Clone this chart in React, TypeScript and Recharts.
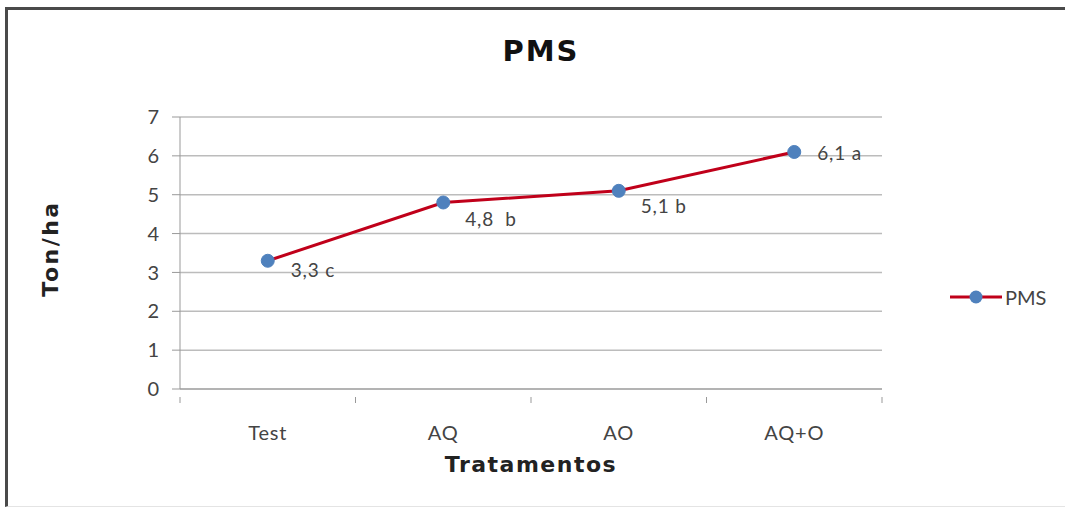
import React from 'react';
import { LineChart, Line, XAxis, YAxis, CartesianGrid, LabelList } from 'recharts';

const categories = ['Test', 'AQ', 'AO', 'AQ+O'];
const pmsValues = [3.3, 4.8, 5.1, 6.1];
const pointLabels = ['3,3 c', '4,8  b', '5,1 b', '6,1 a'];
const yTicks = [0, 1, 2, 3, 4, 5, 6, 7];

const data = categories.map((name, i) => ({ name, pms: pmsValues[i], label: pointLabels[i] }));

// label offsets relative to each marker (dx, dy)
const labelOffsets = [
  [23, 11],
  [22, 19],
  [22, 17],
  [23, 3],
];

const HALF_BAND = 87.75;
const FONT = 'Lato, "Open Sans", sans-serif';
const BOLD_FONT = '"DejaVu Sans", Verdana, sans-serif';

const CategoryTick = (props: any) => {
  const { x, y, payload, index } = props;
  return (
    <g>
      <line x1={x - HALF_BAND} x2={x - HALF_BAND} y1={y} y2={y + 6} stroke="#999" />
      {index === categories.length - 1 && (
        <line x1={x + HALF_BAND} x2={x + HALF_BAND} y1={y} y2={y + 6} stroke="#999" />
      )}
      <text x={x} y={y + 38} textAnchor="middle" dominantBaseline="middle" fontSize={20} fill="#444" fontFamily={FONT} letterSpacing={0.8}>
        {payload.value}
      </text>
    </g>
  );
};

const PointLabel = (props: any) => {
  const { x, y, index, value } = props;
  const [dx, dy] = labelOffsets[index] || [20, 0];
  return (
    <text x={x + dx} y={y + dy} dominantBaseline="middle" fontSize={19} fill="#444" fontFamily={FONT} letterSpacing={0.8} style={{ whiteSpace: 'pre' }}>
      {value}
    </text>
  );
};

export default function App() {
  return (
    <div style={{ position: 'absolute', left: 0, top: 0, width: 1065, height: 513, background: '#fff', overflow: 'hidden' }}>
      <div
        style={{
          position: 'absolute', left: 5, top: 7, width: 1060, height: 500,
          borderLeft: '3px solid #4a4a4a', borderTop: '3px solid #4a4a4a', borderBottom: '1px solid #e4e4e4',
          boxSizing: 'border-box',
        }}
      />
      <div style={{ position: 'absolute', left: 441, top: 34, width: 200, textAlign: 'center', fontFamily: BOLD_FONT, fontWeight: 'bold', fontSize: 29, color: '#111', letterSpacing: 2 }}>
        PMS
      </div>
      <div style={{ position: 'absolute', left: 381, top: 452, width: 300, textAlign: 'center', fontFamily: BOLD_FONT, fontWeight: 'bold', fontSize: 22, color: '#222', letterSpacing: 1.5 }}>
        Tratamentos
      </div>
      <div style={{ position: 'absolute', left: -50, top: 236, width: 200, textAlign: 'center', fontFamily: BOLD_FONT, fontWeight: 'bold', fontSize: 22, color: '#222', letterSpacing: 2.5, transform: 'rotate(-90deg)' }}>
        Ton/ha
      </div>

      <LineChart
        width={1065}
        height={513}
        data={data}
        margin={{ top: 117, right: 183, bottom: 64, left: 120 }}
        style={{ position: 'absolute', left: 0, top: 0 }}
      >
        <CartesianGrid vertical={false} stroke="#bcbcbc" strokeWidth={1.5} />
        <XAxis
          dataKey="name"
          height={60}
          interval={0}
          padding={{ left: HALF_BAND, right: HALF_BAND }}
          axisLine={{ stroke: '#999' }}
          tickLine={false}
          tick={<CategoryTick />}
        />
        <YAxis
          width={60}
          domain={[0, 7]}
          ticks={yTicks}
          interval={0}
          axisLine={{ stroke: '#999' }}
          tickLine={{ stroke: '#999' }}
          tickSize={8}
          tickMargin={13}
          tick={{ fontSize: 20, fill: '#444', fontFamily: FONT }}
        />
        <Line
          type="linear"
          dataKey="pms"
          stroke="#c0001a"
          strokeWidth={3}
          dot={{ r: 6.5, fill: '#4f81bd', stroke: '#4f81bd', strokeWidth: 1 }}
          isAnimationActive={false}
        >
          <LabelList dataKey="label" content={<PointLabel />} />
        </Line>
      </LineChart>

      <div style={{ position: 'absolute', left: 948, top: 284, display: 'flex', alignItems: 'center', gap: 3 }}>
        <svg width={54} height={26}>
          <line x1={2} x2={54} y1={13} y2={13} stroke="#c0001a" strokeWidth={3} />
          <circle cx={28} cy={13} r={6.5} fill="#4f81bd" />
        </svg>
        <span style={{ fontSize: 20, color: '#444', fontFamily: FONT, lineHeight: '26px' }}>PMS</span>
      </div>
    </div>
  );
}
